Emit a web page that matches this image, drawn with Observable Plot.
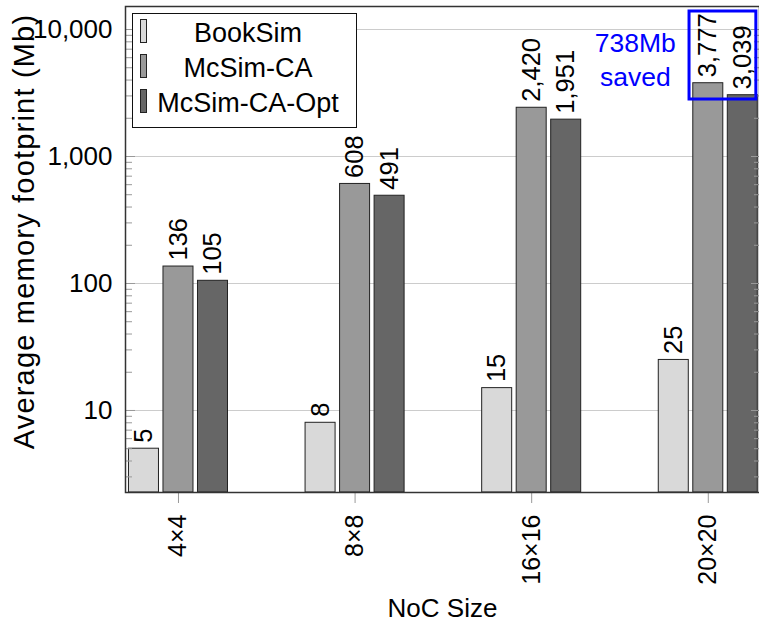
<!DOCTYPE html>
<html>
<head>
<meta charset="utf-8">
<script src="https://cdn.jsdelivr.net/npm/d3@7"></script>
<script src="https://cdn.jsdelivr.net/npm/@observablehq/plot@0.6"></script>
<style>
  html, body { margin: 0; padding: 0; background: #fff; }
  #wrap { position: relative; width: 759px; height: 622px; }
  #legend { position: absolute; left: 132px; top: 13px; width: 225px; height: 115px; box-sizing: border-box;
            border: 1.4px solid #111; background: #fff; font-family: "Liberation Sans", sans-serif; font-size: 27px; color: #000; }
  .row { position: absolute; left: 0; width: 100%; height: 35px; }
  .sw { position: absolute; left: 7px; top: 5px; width: 7px; height: 24px; box-sizing: border-box; border: 1px solid #222; }
  .lab { position: absolute; left: 0; top: 2px; width: 100%; padding-left: 7px; box-sizing: border-box; text-align: center; line-height: 35px; white-space: nowrap; }
</style>
</head>
<body>
<div id="wrap"></div>
<script>
// ---- data ----
const groups = ["4×4", "8×8", "16×16", "20×20"];
const series = ["BookSim", "McSim-CA", "McSim-CA-Opt"];
const bookSim = [5, 8, 15, 25];
const mcSimCA = [136, 608, 2420, 3777];
const mcSimCAOpt = [105, 491, 1951, 3039];
const seriesColors = ["#d9d9d9", "#999999", "#666666"];
const yMajorTicks = [10, 100, 1000, 10000];
const annotationGroup = "20×20";

// ---- layout ----
const yDomain = [2.26, 15180];
const slot = 0.1954;          // width of one bar slot in group units
const values = [bookSim, mcSimCA, mcSimCAOpt];
const center = (gi, si) => gi + (si - 1) * slot;

const table = groups.flatMap((g, gi) => series.map((s, si) => ({group: g, gi, series: s, si, value: values[si][gi]})));
const yMinorTicks = [1, 10, 100, 1000].flatMap(p => [2, 3, 4, 5, 6, 7, 8, 9].map(k => k * p))
  .filter(v => v > yDomain[0] && v < yDomain[1]);

const ai = groups.indexOf(annotationGroup);
const annotation = [{
  x1: center(ai, 1) - slot / 2,
  x2: center(ai, 2) + slot / 2,
  y1: mcSimCAOpt[ai],
  y2: yDomain[1],
  label: `${mcSimCA[ai] - mcSimCAOpt[ai]}Mb\nsaved`,
  gi: ai
}];

const fmt = d3.format(",");

const chart = Plot.plot({
  width: 759,
  height: 622,
  marginLeft: 125,
  marginRight: 0,
  marginTop: 6,
  marginBottom: 130,
  style: {fontFamily: '"Liberation Sans", sans-serif', fontSize: "26px", color: "black", background: "white"},
  x: {domain: [-0.3, 3.29], label: null},
  y: {type: "log", domain: yDomain, label: null},
  marks: [
    Plot.ruleY(yMajorTicks, {stroke: "#cccccc", strokeWidth: 1.2}),
    ...series.map((s, si) => Plot.rect(table.filter(d => d.si === si), {
      x1: d => center(d.gi, d.si) - slot / 2,
      x2: d => center(d.gi, d.si) + slot / 2,
      y1: yDomain[0],
      y2: "value",
      fill: seriesColors[si],
      stroke: "#222",
      strokeWidth: 1,
      insetLeft: 2.25,
      insetRight: 2.25
    })),
    Plot.text(table, {
      x: d => center(d.gi, d.si),
      y: "value",
      text: d => fmt(d.value),
      rotate: -90,
      textAnchor: "start",
      lineAnchor: "middle",
      dy: -6,
      fontSize: 25.5,
      fill: "black"
    }),
    // y tick labels
    Plot.axisY(yMajorTicks, {anchor: "left", tickSize: 0, tickPadding: 13, tickFormat: ",", fontSize: 26, fill: "black", label: null}),
    // inward ticks
    Plot.axisY(yMajorTicks, {anchor: "left", tickSize: -10, tickFormat: () => "", stroke: "#999", label: null}),
    Plot.axisY(yMinorTicks, {anchor: "left", tickSize: -7, tickFormat: () => "", stroke: "#999", label: null}),
    Plot.axisY(yMajorTicks, {anchor: "right", tickSize: -9, tickFormat: () => "", stroke: "#999", label: null}),
    Plot.axisY(yMinorTicks, {anchor: "right", tickSize: -6, tickFormat: () => "", stroke: "#999", label: null}),
    // x axis
    Plot.axisX(groups.map((g, i) => i), {
      anchor: "bottom",
      tickFormat: i => groups[i],
      tickRotate: -90,
      tickSize: 11,
      tickPadding: 11,
      stroke: "#999",
      fill: "black",
      fontSize: 25,
      label: null
    }),
    Plot.frame({stroke: "#333", strokeWidth: 1.5}),
    // annotation
    Plot.rect(annotation, {
      x1: "x1", x2: "x2", y1: "y1", y2: "y2",
      fill: "none", stroke: "#0000ff", strokeWidth: 3,
      insetLeft: -1.5, insetRight: 3.7, insetTop: 5, insetBottom: -4.3
    }),
    Plot.text(annotation, {
      x: "gi",
      frameAnchor: "top",
      text: "label",
      dx: -73,
      dy: 22,
      lineAnchor: "top",
      lineHeight: 1.27,
      fontSize: 26.5,
      fill: "#0000ff"
    }),
    // axis titles
    Plot.text(["Average memory footprint (Mb)"], {
      text: d => d,
      frameAnchor: "left",
      rotate: -90,
      dx: -101,
      dy: -18,
      textAnchor: "middle",
      lineAnchor: "middle",
      fontSize: 29,
      fill: "black",
      ariaDescription: "ylabel"
    }),
    Plot.text(["NoC Size"], {
      text: d => d,
      frameAnchor: "bottom",
      dy: 116,
      lineAnchor: "middle",
      fontSize: 26,
      fill: "black"
    })
  ]
});

d3.select(chart).selectAll('g[aria-description="ylabel"] text').style("letter-spacing", "1.2px");

const wrap = document.getElementById("wrap");
wrap.appendChild(chart);

// legend (inside the plot area, upper left)
const legend = document.createElement("div");
legend.id = "legend";
series.forEach((s, si) => {
  const row = document.createElement("div");
  row.className = "row";
  row.style.top = (si * 35) + "px";
  const sw = document.createElement("div");
  sw.className = "sw";
  sw.style.background = seriesColors[si];
  const lab = document.createElement("div");
  lab.className = "lab";
  lab.textContent = s;
  row.appendChild(sw);
  row.appendChild(lab);
  legend.appendChild(row);
});
wrap.appendChild(legend);
</script>
</body>
</html>
